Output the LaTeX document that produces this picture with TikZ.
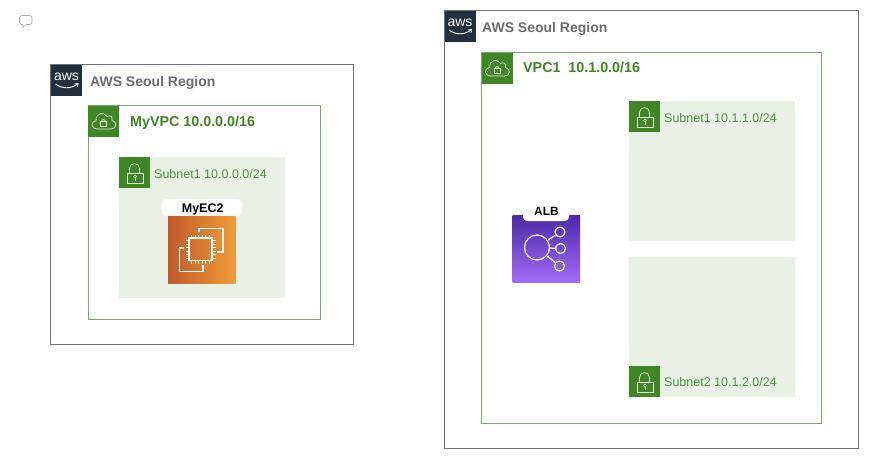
\documentclass[tikz,border=0pt]{standalone}
\usepackage{fontspec}
\setmainfont{Liberation Sans}
\definecolor{awsink}{HTML}{232F3E}
\definecolor{vpcgreen}{HTML}{3F8624}
\definecolor{vpcline}{HTML}{7AA86A}
\definecolor{subnetbg}{HTML}{E9F1E7}
\definecolor{regionline}{HTML}{6B7280}
\definecolor{regiontext}{HTML}{6B6B70}
\definecolor{subnettext}{HTML}{4F9440}
\definecolor{ecleft}{HTML}{C05A2B}
\definecolor{ecright}{HTML}{F09C36}
\definecolor{albtop}{HTML}{4D2AA8}
\definecolor{albbottom}{HTML}{A06BF5}
\tikzset{
  regionbox/.style={draw=regionline, line width=0.9pt},
  vpcbox/.style={draw=vpcline, line width=0.9pt},
  regionlabel/.style={anchor=base west, inner sep=0pt, font=\fontsize{14}{14}\selectfont\bfseries, text=regiontext},
  vpclabel/.style={anchor=base west, inner sep=0pt, font=\fontsize{14.3}{14}\selectfont\bfseries, text=vpcgreen},
  subnetlabel/.style={anchor=base west, inner sep=0pt, font=\fontsize{12.5}{14}\selectfont, text=subnettext},
  iconlabel/.style={anchor=base, inner sep=0pt, font=\fontsize{12.5}{14}\selectfont\bfseries, text=black},
  dotnode/.style={draw=white, line width=1.2pt, circle, minimum size=10pt, inner sep=0pt},
  pics/awstag/.style={code={
    \fill [awsink] (0, 0) rectangle (31, 31);
    \node [inner sep=0pt, text=white, font=\fontsize{14}{14}\selectfont] at (15.5, 12) {aws};
    \draw [white, line width=0.9pt] (4.5, 19.5) .. controls (11, 24.5) and (20, 24.5) .. (26.5, 19.5);
    \draw [white, line width=0.8pt] (23.5, 19.5) -- (27, 19) -- (26.5, 22.5);
  }},
  pics/vpctag/.style={code={
    \fill [vpcgreen] (0, 0) rectangle (31, 31);
    \draw [white!85!vpcgreen, line width=0.7pt] (9, 23.5) .. controls (3, 23.5) and (2, 16) .. (8, 15)
      .. controls (8, 7) and (16, 6) .. (19, 11) .. controls (22, 9) and (25, 11) .. (24, 15)
      .. controls (29.5, 16) and (29, 23.5) .. (23, 23.5) -- cycle;
    \draw [white!85!vpcgreen, line width=0.7pt] (12.5, 16) rectangle (18.5, 20.5);
    \draw [white!85!vpcgreen, line width=0.7pt] (13.5, 16) arc (180:360:2);
  }},
  pics/subnettag/.style={code={
    \fill [vpcgreen] (0, 0) rectangle (31, 31);
    \draw [white!85!vpcgreen, line width=0.7pt] (8, 16.5) rectangle (24, 26);
    \draw [white!85!vpcgreen, line width=0.7pt] (10.5, 16.5) -- (10.5, 11.5) arc (180:360:5) -- (20.5, 16.5);
    \draw [white!85!vpcgreen, line width=0.7pt] (16, 19.5) circle (1.5);
    \draw [white!85!vpcgreen, line width=0.7pt] (16, 21) -- (16, 23.5);
  }},
}
\begin{document}
\begin{tikzpicture}[x=1pt, y=-1pt]
  \useasboundingbox [fill=white] (0, 0) rectangle (894, 466);
  % comment mark
  \draw [gray!70, line width=0.7pt, rounded corners=2.5pt] (19.5, 15.5) rectangle (32, 24.5);
  \fill [white] (22.8, 24) rectangle (25.5, 25.2);
  \draw [gray!70, line width=0.7pt] (22.8, 24.5) -- (23, 27) -- (25.5, 24.5);

  % left side
  \draw [regionbox] (50.8, 64.7) rectangle (353.7, 344.7);
  \pic at (51, 64.5) {awstag};
  \node [regionlabel] (regionA) at (90, 86) {AWS Seoul Region};
  \draw [vpcbox] (88.5, 105.5) rectangle (320.7, 319.7);
  \pic at (88, 105.5) {vpctag};
  \node [vpclabel] (myvpc) at (130, 126) {MyVPC 10.0.0.0/16};
  \fill [subnetbg] (119, 157) rectangle (285, 298);
  \pic at (119, 157) {subnettag};
  \node [subnetlabel] (subnetA) at (154, 178) {Subnet1 10.0.0.0/24};
  \fill [white, rounded corners=4pt] (162, 199) rectangle (242, 216);
  \node [iconlabel] (myec2) at (202.7, 212) {MyEC2};
  \shade [left color=ecleft, right color=ecright]
    (168, 216) rectangle (235.5, 283);
  \begin{scope}[white, line width=1.2pt]
    \draw (199, 232) -- (199, 228.5) -- (223, 228.5) -- (223, 252) -- (217, 252);
    \draw (203, 265) -- (203, 271.5) -- (179.5, 271.5) -- (179.5, 248) -- (184, 248);
    \draw (189, 238) rectangle (212, 260.5);
    \foreach \t in {0, 1, 2, 3, 4, 5} {
      \draw [line width=0.9pt] (191.5+\t*3.6, 238) -- (191.5+\t*3.6, 234.5);
      \draw [line width=0.9pt] (191.5+\t*3.6, 260.5) -- (191.5+\t*3.6, 264);
      \draw [line width=0.9pt] (189, 240.5+\t*3.6) -- (185.5, 240.5+\t*3.6);
      \draw [line width=0.9pt] (212, 240.5+\t*3.6) -- (215.5, 240.5+\t*3.6);
    }
  \end{scope}

  % right side
  \draw [regionbox] (444.8, 10.8) rectangle (858.5, 448.3);
  \pic at (444.5, 10.5) {awstag};
  \node [regionlabel] (regionB) at (482, 32) {AWS Seoul Region};
  \draw [vpcbox] (481.6, 52.4) rectangle (821.5, 423);
  \pic at (481.5, 52.5) {vpctag};
  \node [vpclabel] (vpcone) at (523, 72.7) {VPC1\ \ 10.1.0.0/16};
  \fill [subnetbg] (629, 101) rectangle (795, 241);
  \pic at (629, 101) {subnettag};
  \node [subnetlabel] (subnetB) at (664, 122) {Subnet1 10.1.1.0/24};
  \fill [subnetbg] (629, 257) rectangle (795, 397);
  \pic at (629, 366) {subnettag};
  \node [subnetlabel] (subnetC) at (664, 386) {Subnet2 10.1.2.0/24};

  % load balancer
  \shade [top color=albtop, bottom color=albbottom]
    (512.7, 215.3) rectangle (580, 282);
  \fill [white, rounded corners=4pt] (523, 200) rectangle (569, 221);
  \node [iconlabel, font=\fontsize{12}{14}\selectfont\bfseries] (alb) at (546.5, 215) {ALB};
  \node [dotnode, minimum size=25pt] (hub) at (537, 247.5) {};
  \node [dotnode] (top) at (560, 232) {};
  \node [dotnode] (mid) at (560.5, 248.5) {};
  \node [dotnode] (low) at (559.5, 266) {};
  \draw [white, line width=1.2pt] (hub) -- (top);
  \draw [white, line width=1.2pt] (hub) -- (mid);
  \draw [white, line width=1.2pt] (hub) -- (low);
\end{tikzpicture}
\end{document}
